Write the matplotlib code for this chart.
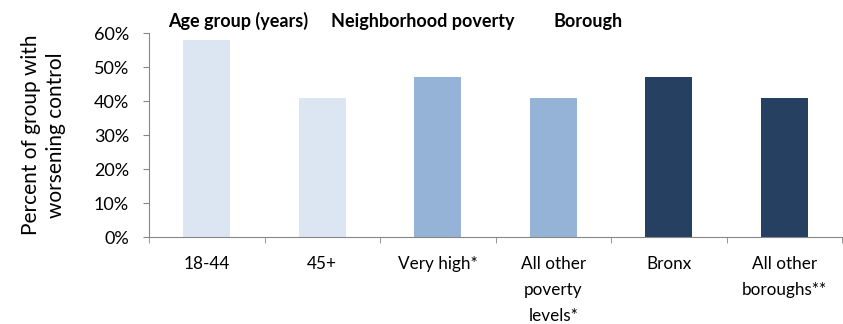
import matplotlib
matplotlib.use("Agg")
import matplotlib.pyplot as plt

categories = ["18-44", "45+", "Very high*", "All other\npoverty\nlevels*", "Bronx", "All other\nboroughs**"]
values = [58, 41, 47, 41, 47, 41]
colors = ["#DCE6F2", "#DCE6F2", "#95B3D7", "#95B3D7", "#254061", "#254061"]
group_titles = ["Age group (years)", "Neighborhood poverty", "Borough"]
group_title_x = [0.27, 1.87, 3.30]
yticks = [0, 10, 20, 30, 40, 50, 60]

plt.rcParams['font.family'] = ['Lato', 'DejaVu Sans']

fig = plt.figure(figsize=(8.43, 3.24), dpi=100)
ax = fig.add_axes([149/843, 1-237/324, (842-149)/843, (237-33)/324])

x = list(range(len(categories)))
ax.bar(x, values, width=0.41, color=colors)
ax.set_xlim(-0.5, len(categories) - 0.5)
ax.set_ylim(0, 60)
ax.set_yticks(yticks)
ax.set_yticklabels([f"{v}%" for v in yticks], fontsize=13)
ax.set_xticks(x)
ax.set_xticklabels(categories, fontsize=12.3, linespacing=1.75)
ax.tick_params(axis='x', length=0, pad=14)
ax.set_xticks([i - 0.5 for i in range(len(categories) + 1)], minor=True)
ax.tick_params(axis='x', which='minor', length=4.3, color="#868686")
ax.tick_params(axis='y', length=4.3, color="#868686", pad=10)

for s in ["top", "right"]:
    ax.spines[s].set_visible(False)
for s in ["left", "bottom"]:
    ax.spines[s].set_color("#868686")

ax.set_ylabel("Percent of group with\nworsening control", fontsize=15, labelpad=20, linespacing=1.3)

for t, gx in zip(group_titles, group_title_x):
    ax.text(gx, 63.5, t, ha="center", va="center", fontsize=13, fontweight="bold", clip_on=False)

fig.savefig("out.png", dpi=100)
